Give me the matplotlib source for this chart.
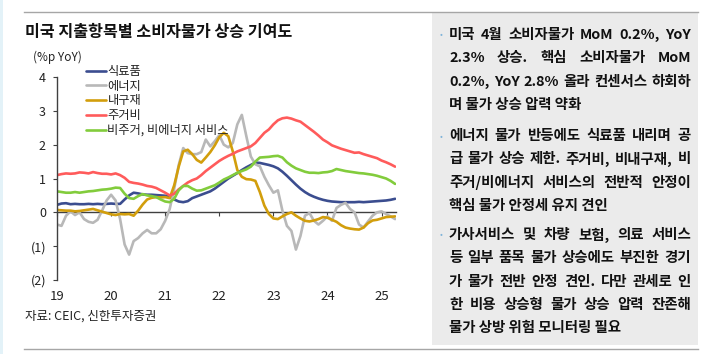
import matplotlib
matplotlib.use('Agg')
import matplotlib.pyplot as plt
from matplotlib.patches import Rectangle
from matplotlib.lines import Line2D
import numpy as np

plt.rcParams['font.family'] = ['Noto Sans CJK KR', 'DejaVu Sans']

# monthly, Jan 2019 .. Apr 2025 (%p YoY contribution)
food = [0.22, 0.26, 0.27, 0.24, 0.25, 0.24, 0.24, 0.25, 0.24, 0.25, 0.24, 0.25,
        0.26, 0.25, 0.25, 0.38, 0.50, 0.58, 0.56, 0.53, 0.52, 0.52, 0.51, 0.50,
        0.49, 0.47, 0.38, 0.32, 0.30, 0.33, 0.42, 0.47, 0.52, 0.57, 0.62, 0.70,
        0.80, 0.90, 1.00, 1.08, 1.16, 1.25, 1.33, 1.40, 1.47, 1.46, 1.43, 1.40,
        1.36, 1.30, 1.20, 1.08, 0.95, 0.82, 0.70, 0.60, 0.52, 0.46, 0.41, 0.37,
        0.34, 0.32, 0.31, 0.30, 0.30, 0.30, 0.30, 0.31, 0.30, 0.31, 0.32, 0.33,
        0.34, 0.35, 0.37, 0.40]
energy = [-0.36, -0.40, -0.10, 0.03, -0.08, 0.00, -0.20, -0.28, -0.31, -0.22, 0.05, 0.35,
          0.52, 0.35, -0.20, -0.95, -1.25, -0.85, -0.76, -0.62, -0.52, -0.62, -0.62, -0.50,
          -0.25, 0.10, 0.70, 1.40, 1.90, 1.75, 1.72, 1.72, 1.78, 2.15, 1.95, 2.10,
          2.28, 2.00, 1.92, 2.05, 2.60, 2.88, 2.25, 1.65, 1.42, 1.36, 1.05, 0.80,
          0.58, 0.65, 0.05, -0.40, -0.55, -1.10, -0.70, -0.10, -0.02, -0.25, -0.36, -0.25,
          -0.12, -0.25, 0.13, 0.22, 0.28, 0.10, 0.00, -0.36, -0.45, -0.27, -0.10, 0.00,
          0.03, -0.05, -0.12, -0.20]
durables = [0.07, 0.06, 0.05, 0.05, 0.03, 0.04, 0.06, 0.08, 0.10, 0.06, 0.02, -0.02,
            -0.06, -0.08, -0.05, -0.06, -0.05, -0.10, 0.05, 0.23, 0.38, 0.43, 0.45, 0.44,
            0.45, 0.42, 0.80, 1.35, 1.80, 1.85, 1.72, 1.55, 1.47, 1.62, 1.78, 1.98,
            2.22, 2.35, 2.25, 1.80, 1.25, 1.05, 0.98, 0.97, 0.93, 0.60, 0.20, -0.05,
            -0.18, -0.20, -0.12, -0.05, 0.00, -0.10, -0.18, -0.25, -0.27, -0.24, -0.20, -0.14,
            -0.16, -0.22, -0.28, -0.38, -0.45, -0.48, -0.50, -0.51, -0.45, -0.32, -0.24, -0.22,
            -0.18, -0.14, -0.13, -0.12]
shelter = [1.10, 1.13, 1.15, 1.14, 1.15, 1.18, 1.17, 1.15, 1.19, 1.16, 1.14, 1.14,
           1.12, 1.15, 1.10, 1.02, 0.90, 0.87, 0.85, 0.82, 0.78, 0.76, 0.72, 0.65,
           0.58, 0.50, 0.55, 0.68, 0.78, 0.88, 0.95, 1.00, 1.10, 1.22, 1.32, 1.42,
           1.52, 1.60, 1.67, 1.73, 1.80, 1.85, 1.90, 1.95, 2.05, 2.20, 2.35, 2.45,
           2.60, 2.72, 2.78, 2.80, 2.77, 2.72, 2.68, 2.58, 2.48, 2.38, 2.27, 2.15,
           2.07, 1.98, 1.93, 1.88, 1.84, 1.80, 1.76, 1.77, 1.72, 1.68, 1.64, 1.60,
           1.53, 1.48, 1.42, 1.35]
services = [0.62, 0.60, 0.58, 0.58, 0.60, 0.58, 0.60, 0.62, 0.63, 0.65, 0.67, 0.68,
            0.70, 0.73, 0.72, 0.55, 0.42, 0.40, 0.48, 0.54, 0.50, 0.48, 0.45, 0.38,
            0.32, 0.30, 0.40, 0.65, 0.78, 0.78, 0.70, 0.64, 0.65, 0.70, 0.75, 0.80,
            0.88, 0.97, 1.03, 1.10, 1.17, 1.22, 1.27, 1.35, 1.50, 1.62, 1.63, 1.64,
            1.66, 1.67, 1.62, 1.48, 1.38, 1.30, 1.25, 1.20, 1.17, 1.17, 1.16, 1.18,
            1.19, 1.22, 1.28, 1.25, 1.22, 1.20, 1.18, 1.16, 1.15, 1.13, 1.11, 1.08,
            1.04, 1.00, 0.93, 0.84]

series_names = ['식료품', '에너지', '내구재', '주거비', '비주거, 비에너지 서비스']
series_colors = ['#3b4d8f', '#b8b8b8', '#d29e0c', '#ff5b5b', '#82cc3c']
year_labels = ['19', '20', '21', '22', '23', '24', '25']
ytick_vals = [4, 3, 2, 1, 0, -1, -2]
ytick_labels = ['4', '3', '2', '1', '0', '(1)', '(2)']

title = '미국 지출항목별 소비자물가 상승 기여도'
unit = '(%p YoY)'
source = '자료: CEIC, 신한투자증권'
paragraphs = [
    ['미국 4월 소비자물가 MoM 0.2%, YoY',
     '2.3% 상승. 핵심 소비자물가 MoM',
     '0.2%, YoY 2.8% 올라 컨센서스 하회하',
     '며 물가 상승 압력 약화'],
    ['에너지 물가 반등에도 식료품 내리며 공',
     '급 물가 상승 제한. 주거비, 비내구재, 비',
     '주거/비에너지 서비스의 전반적 안정이',
     '핵심 물가 안정세 유지 견인'],
    ['가사서비스 및 차량 보험, 의료 서비스',
     '등 일부 품목 물가 상승에도 부진한 경기',
     '가 물가 전반 안정 견인. 다만 관세로 인',
     '한 비용 상승형 물가 상승 압력 잔존해',
     '물가 상방 위험 모니터링 필요'],
]
para_tops = [35, 136, 235]

W, H = 720, 354
fig = plt.figure(figsize=(W / 100, H / 100), dpi=100)


def fx(x):
    return x / W


def fy(y):
    return 1 - y / H


# page decorations
fig.patches.append(Rectangle((0, 0), fx(3), 1, transform=fig.transFigure,
                             facecolor='#e3f2f8', edgecolor='none'))
fig.patches.append(Rectangle((fx(432), fy(345)), fx(698 - 432), fy(12) - fy(345),
                             transform=fig.transFigure, facecolor='#ebebeb', edgecolor='none'))
fig.lines.append(Line2D([fx(24), fx(698)], [fy(12), fy(12)], transform=fig.transFigure,
                        color='#a6a6a6', lw=1))
fig.lines.append(Line2D([fx(24), fx(698)], [fy(349), fy(349)], transform=fig.transFigure,
                        color='#a6a6a6', lw=1))

# chart
ax = fig.add_axes([fx(57), fy(280), fx(396 - 57), fy(77) - fy(280)])
x = np.arange(len(food))
for vals, name, col in zip([food, energy, durables, shelter, services], series_names, series_colors):
    ax.plot(x, vals, color=col, lw=1.9, label=name, solid_capstyle='round')

ax.set_xlim(0, 75.2)
ax.set_ylim(-2, 4)
ax.set_facecolor('none')
for s in ['top', 'right', 'bottom']:
    ax.spines[s].set_visible(False)
ax.spines['left'].set_color('#404040')
ax.spines['left'].set_linewidth(1)
ax.set_yticks(ytick_vals)
ax.set_yticklabels(ytick_labels)
ax.tick_params(axis='y', direction='out', length=3, width=0.8, color='#404040', pad=5,
               labelsize=9, labelcolor='#222222')
ax.set_xticks(np.arange(len(year_labels)) * 12)
ax.set_xticklabels(year_labels)
ax.tick_params(axis='x', length=0, pad=7, labelsize=9.5, labelcolor='#222222')

zero = ax.secondary_xaxis(1 / 3)
zero.set_xticks(np.arange(len(year_labels)) * 12)
zero.set_xticklabels([])
zero.spines['bottom'].set_color('#404040')
zero.spines['bottom'].set_linewidth(1)
zero.tick_params(axis='x', direction='out', length=3, width=0.8, color='#404040')

leg = ax.legend(loc='upper left', bbox_to_anchor=(fx(86), fy(65)), bbox_transform=fig.transFigure,
                frameon=False, fontsize=8.8, handlelength=1.6, handletextpad=0.15,
                labelspacing=0.14, borderaxespad=0, borderpad=0)
for t in leg.get_texts():
    t.set_color('#222222')

fig.text(fx(25), fy(32), title, fontsize=11.6, fontweight='bold', va='center', ha='left',
         color='#111111')
fig.text(fx(33), fy(57), unit, fontsize=8.5, va='center', ha='left', color='#222222')
fig.text(fx(25), fy(316), source, fontsize=9, va='center', ha='left', color='#222222')

# right-hand commentary, justified
renderer = fig.canvas.get_renderer()
left, right = 449, 691
line_gap = 23.3
for para, top in zip(paragraphs, para_tops):
    fig.text(fx(441), fy(top), '•', fontsize=6, color='#7fb3d9', va='center', ha='center')
    for i, line in enumerate(para):
        y = fy(top + i * line_gap)
        kw = dict(fontsize=10.4, fontweight='bold', va='center', ha='left', color='#111111')
        if i == len(para) - 1:
            fig.text(fx(left), y, line, **kw)
            continue
        words = line.split(' ')
        texts = [fig.text(fx(left), y, w, **kw) for w in words]
        widths = [t.get_window_extent(renderer).width for t in texts]
        gap = (right - left - sum(widths)) / (len(words) - 1)
        pos = left
        for t, w in zip(texts, widths):
            t.set_x(fx(pos))
            pos += w + gap

fig.savefig('out.png', dpi=100)
